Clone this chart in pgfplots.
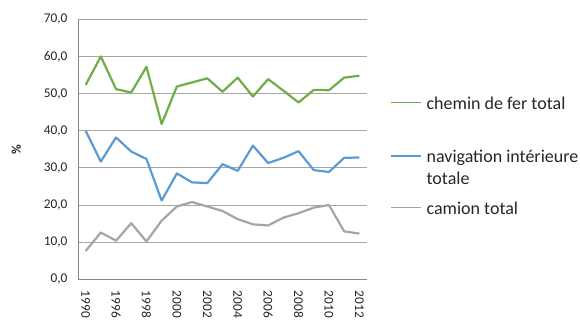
\documentclass[border=0pt]{standalone}
\usepackage{pgfplots}
\pgfplotsset{compat=1.18}
\usepackage{fontspec}
\setmainfont{Carlito}

\definecolor{rail}{HTML}{70AD47}
\definecolor{river}{HTML}{5B9BD5}
\definecolor{truck}{HTML}{A5A5A5}
\definecolor{gridc}{HTML}{A6A6A6}
\definecolor{axisc}{HTML}{868686}
\definecolor{txt}{HTML}{262626}

\begin{document}
\begin{tikzpicture}[font=\fontsize{13.33}{16}\selectfont, color=txt]
\path[use as bounding box] (0,0) rectangle (580pt,320pt);
\begin{axis}[
    at={(78pt,40.7pt)}, anchor=south west,
    scale only axis,
    width=289pt, height=260pt,
    xmin=-0.5, xmax=18.5,
    ymin=0, ymax=70,
    ytick={0,10,...,70},
    xtick={0,2,...,18},
    xticklabels={1990,1996,1998,2000,2002,2004,2006,2008,2010,2012},
    xticklabel style={rotate=-90, anchor=west},
    xticklabel shift=8pt,
    yticklabel={\pgfmathprintnumber[fixed,fixed zerofill,precision=1,use comma,assume math mode=true]{\tick}},
    yticklabel style={xshift=-7pt},
    major tick length=0pt,
    axis lines=left,
    axis line style={-, draw=axisc, line width=0.8pt},
    ymajorgrids,
    grid style={draw=gridc, line width=0.8pt},
    ylabel={\textbf{\%}},
    ylabel style={at={(axis description cs:-0.213,0.5)}, anchor=center},
    legend cell align=left,
    legend style={draw=none, fill=none, inner sep=0pt, outer sep=0pt,
        row sep=0pt, column sep=5pt,
        font=\fontsize{18}{22}\selectfont,
        at={(axis description cs:1.0796,0.716)}, anchor=north west,
        cells={anchor=base west},
        nodes={inner sep=0pt, outer sep=0pt, text height=16pt, text depth=6pt}},
    legend image code/.code={\draw[#1, line width=1.6pt] (0pt,6.5pt) -- (30pt,6.5pt);},
    every axis plot/.append style={line width=2.2pt, line join=round, no markers},
]
\addplot[rail] coordinates {
    (0,52.3) (1,60.0) (2,51.2) (3,50.3) (4,57.2) (5,41.8) (6,51.9) (7,53.0) (8,54.1) (9,50.5)
    (10,54.3) (11,49.2) (12,53.9) (13,50.8) (14,47.6) (15,51.0) (16,50.9) (17,54.3) (18,54.8)
};
\addlegendentry[text depth=37.3pt]{chemin de fer total}
\addplot[river] coordinates {
    (0,40.0) (1,31.7) (2,38.2) (3,34.4) (4,32.4) (5,21.2) (6,28.5) (7,26.1) (8,25.9) (9,31.0)
    (10,29.2) (11,36.0) (12,31.3) (13,32.7) (14,34.5) (15,29.4) (16,28.9) (17,32.7) (18,32.8)
};
\addlegendentry{navigation intérieure}
\addlegendimage{empty legend}
\addlegendentry[text depth=13.7pt]{totale}
\addplot[truck] coordinates {
    (0,7.6) (1,12.6) (2,10.4) (3,15.1) (4,10.2) (5,15.8) (6,19.6) (7,20.8) (8,19.6) (9,18.4)
    (10,16.2) (11,14.8) (12,14.5) (13,16.6) (14,17.8) (15,19.3) (16,20.0) (17,12.9) (18,12.3)
};
\addlegendentry{camion total}
\end{axis}
\end{tikzpicture}
\end{document}
